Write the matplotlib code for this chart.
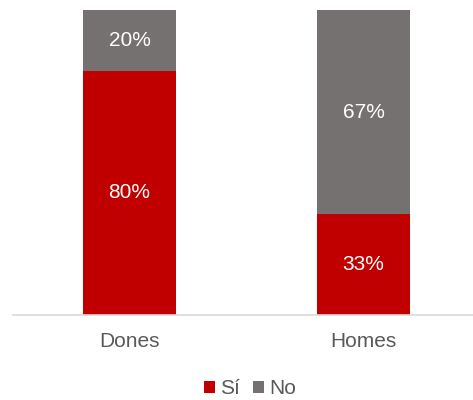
import matplotlib.pyplot as plt

plt.rcParams['font.family'] = ['Liberation Sans', 'DejaVu Sans']

categories = ['Dones', 'Homes']
si = [80, 33]
no = [20, 67]

red = '#C00000'
grey = '#767171'

fig = plt.figure(figsize=(4.73, 4.0), dpi=100)
ax = fig.add_axes([13 / 473, 85 / 400, 1 - 13 / 473, 305 / 400])

x = range(len(categories))
w = 0.397
b1 = ax.bar(x, si, w, color=red, label='Sí')
b2 = ax.bar(x, no, w, bottom=si, color=grey, label='No')

for i in x:
    ax.text(i, si[i] / 2, f'{si[i]}%', ha='center', va='center', color='white', fontsize=15)
    ax.text(i, si[i] + no[i] / 2, f'{no[i]}%', ha='center', va='center', color='white', fontsize=15)

ax.set_xlim(-0.498, 1.468)
ax.set_ylim(0, 100)
ax.set_xticks(list(x))
ax.set_xticklabels(categories, fontsize=15, color='#595959')
ax.tick_params(axis='x', length=0, pad=12)
ax.set_yticks([])
for s in ['top', 'right', 'left']:
    ax.spines[s].set_visible(False)
ax.spines['bottom'].set_color('#D9D9D9')
ax.spines['bottom'].set_linewidth(1.2)

fig.legend(handles=[b1, b2], loc='center', bbox_to_anchor=(250 / 473, 1 - 389 / 400),
           ncol=2, frameon=False, fontsize=15, handlelength=0.55, handleheight=0.55,
           handletextpad=0.25, columnspacing=0.6, labelcolor='#595959')

fig.savefig('out.png', dpi=100)
